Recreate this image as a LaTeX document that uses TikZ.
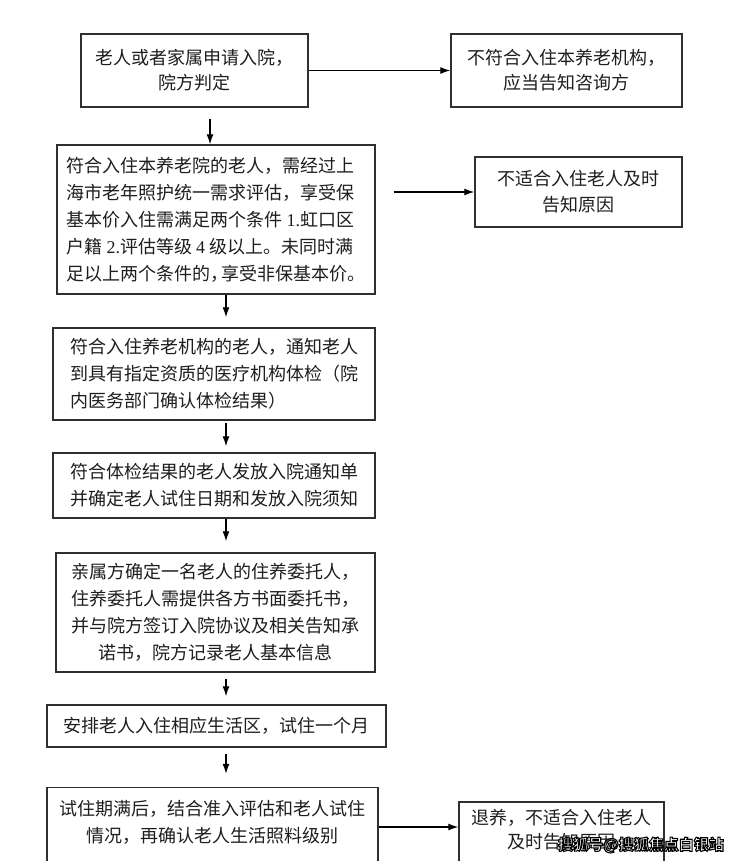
\documentclass[tikz,border=0pt]{standalone}
\usepackage{fontspec}
\setmainfont{Noto Sans CJK SC}
\newfontfamily\lat{Liberation Serif}
\usetikzlibrary{arrows.meta,calc}
\definecolor{edge}{HTML}{303030}
\definecolor{ink}{HTML}{1E1E1E}
\newcommand\wmout[1]{{\color{white}\special{pdf:literal direct 2 Tr 1.1 w 0 G}#1\special{pdf:literal direct 0 Tr}}}
\tikzset{
  box/.style={draw=edge, line width=1.4pt, rectangle, inner sep=2pt, text=ink,
    font=\fontsize{18}{27}\selectfont},
  tight/.style={font=\fontsize{18}{25}\selectfont},
  arr/.style={draw=black, line width=1.3pt, -{Latex[length=10pt,width=7pt]}},
}
\begin{document}
\begin{tikzpicture}[x=1pt,y=-1pt]
\useasboundingbox (0,0) rectangle (740,861);
\fill[white] (0,0) rectangle (740,861);
\clip (0,0) rectangle (740,861);

\node[box, tight, align=center, minimum width=227pt, minimum height=73pt] (b1) at (194.5,70.5)
  {老人或者家属申请入院，\\院方判定};
\node[box, tight, align=center, minimum width=231pt, minimum height=73pt] (r1) at (566.5,70.5)
  {不符合入住本养老机构，\\应当告知咨询方};
\node[box, align=left, minimum width=318pt, minimum height=149pt] (b2) at (216,219.5)
  {符合入住本养老院的老人，需经过上\\海市老年照护统一需求评估，享受保\\基本价入住需满足两个条件 {\lat 1.}虹口区\\户籍 {\lat 2.}评估等级 {\lat 4} 级以上。未同时满\\足以上两个条件的，\kern-7pt 享受非保基本价。};
\node[box, font=\fontsize{18}{26}\selectfont, align=center, minimum width=207pt, minimum height=70pt] (r2) at (578.5,192)
  {不适合入住老人及时\\告知原因};
\node[box, align=left, minimum width=322pt, minimum height=92pt] (b3) at (214,374)
  {符合入住养老机构的老人，通知老人\\到具有指定资质的医疗机构体检（院\\内医务部门确认体检结果）};
\node[box, align=center, minimum width=322pt, minimum height=65pt] (b4) at (214,485.5)
  {符合体检结果的老人发放入院通知单\\并确定老人试住日期和发放入院须知};
\node[box, align=center, minimum width=319pt, minimum height=119pt] (b5) at (215.5,612.5)
  {亲属方确定一名老人的住养委托人，\\住养委托人需提供各方书面委托书，\\并与院方签订入院协议及相关告知承\\诺书，院方记录老人基本信息};
\node[box, minimum width=339pt, minimum height=42pt] (b6) at (216.5,726)
  {安排老人入住相应生活区，试住一个月};
\node[box, align=center, minimum width=331pt, minimum height=121pt] (b7) at (212.5,848)
  {试住期满后，结合准入评估和老人试住\\情况，再确认老人生活照料级别\\~\\~};
\node[box, font=\fontsize{18}{24}\selectfont, align=center, minimum width=205pt, minimum height=102pt] (b8) at (561.5,853)
  {退养，不适合入住老人\\及时告知原因\\~\\~};

\coordinate (axA) at (210,0);
\coordinate (axB) at (226,0);
\coordinate (y7) at (0,827);

\draw[arr] (b1) -- (r1);
\draw[arr, shorten <=11pt] (b1.south -| axA) -- (b2.north -| axA);
\draw[arr, shorten <=18pt] (r2 -| b2.east) -- (r2.west);
\draw[arr, shorten >=10pt] (b2.south -| axB) -- (b3.north -| axB);
\draw[arr, shorten <=2pt, shorten >=6pt] (b3.south -| axB) -- (b4.north -| axB);
\draw[arr, shorten >=11pt] (b4.south -| axB) -- (b5.north -| axB);
\draw[arr, shorten <=6pt, shorten >=8pt] (b5.south -| axB) -- (b6.north -| axB);
\draw[arr, shorten <=6pt, shorten >=13pt] (b6.south -| axB) -- (b7.north -| axB);
\draw[arr] (b7.east |- y7) -- (b8.west |- y7);

\node[font=\fontsize{15}{18}\selectfont\bfseries, inner sep=0pt] (wm) at (641,845)
  {\wmout{搜狐号@搜狐焦点白银站}};
\end{tikzpicture}
\end{document}
